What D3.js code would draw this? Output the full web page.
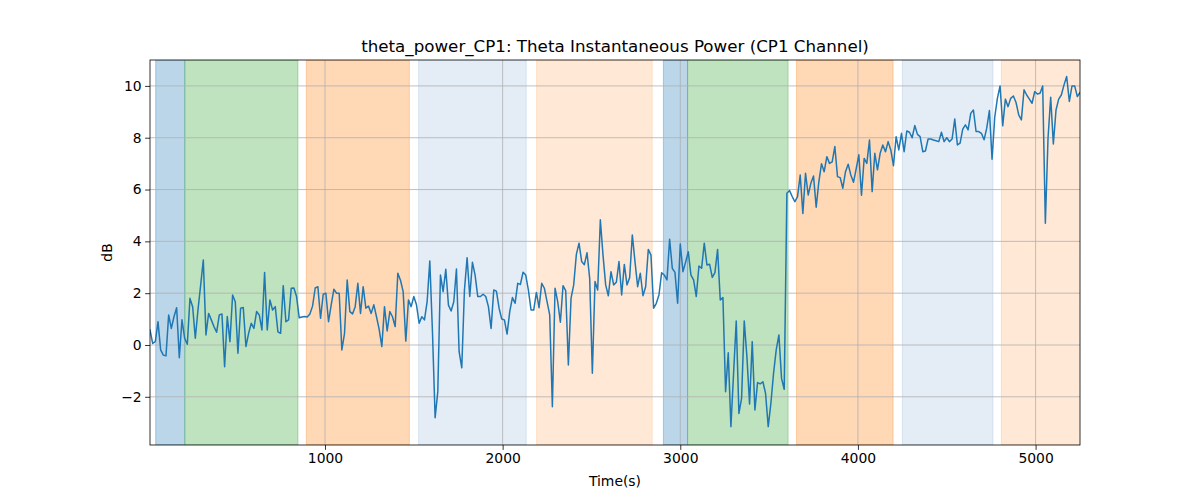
<!DOCTYPE html>
<html>
<head>
<meta charset="utf-8">
<script src="https://cdn.jsdelivr.net/npm/d3@7/dist/d3.min.js"></script>
<style>
  body { margin: 0; background: #fff; }
  svg text { font-family: "DejaVu Sans", sans-serif; fill: #000; }
</style>
</head>
<body>
<svg id="chart" width="1200" height="500"></svg>
<script>
"use strict"

// Samples are on a regular 15 s grid, first one at t = 15 s.
const firstTime = 15
const sampleStep = 15

// Theta power (dB) in blocks of ~50 samples.
const powerBlock1 = [
    0.58, 0.06, 0.13, 0.9, -0.19, -0.39, -0.42, 1.16, 0.64, 1.09,
    1.44, -0.49, 0.97, 0.26, 0.03, 1.8, 1.48, 0.26, 1.35, 2.3,
    3.28, 0.39, 1.22, 0.97, 0.71, 0.49, 1.16, 1.2, -0.84, 1.1,
    0.13, 1.93, 1.67, -0.32, 1.42, 1.45, -0.06, 0.45, 0.84, 0.64,
    1.29, 1.16, 0.58, 2.8, 0.58, 1.74, 1.35, 1.48, 0.51, 0.45,
    2.29, 0.9, 0.97, 2.19, 2.2, 1.87
]
const powerBlock2 = [
    1.05, 1.08, 1.1, 1.08, 1.2, 1.5, 2.2, 2.25, 1.03, 1.96,
    2.0, 0.9, 1.55, 2.15, 2.0, 2.0, -0.19, 0.45, 2.51, 1.29,
    1.2, 1.48, 2.38, 1.22, 2.25, 1.42, 1.5, 1.22, 1.55, 1.09,
    0.6, -0.06, 1.48, 0.54, 1.29, 1.09, 0.71, 2.77, 2.5, 2.06,
    0.15, 1.74, 1.48, 1.87, 1.55
]
const powerBlock3 = [
    0.84, 1.09, 0.97, 1.67, 3.24, 0.51, -2.81, -1.8, 2.7, 2.06,
    2.92, 1.54, 1.31, 1.67, 2.93, -0.26, -0.88, 2.12, 3.37, 1.87,
    3.19, 2.7, 1.87, 1.87, 1.96, 1.87, 1.48, 0.64, 2.12, 2.08,
    1.42, 1.0, 0.97, 0.42, 1.29, 1.83, 1.61, 2.38, 2.34, 2.81,
    2.7, 2.12, 1.35, 1.35, 2.03, 1.44, 2.38, 2.19, 1.67, 1.16,
    -2.38
]
const powerBlock4 = [
    2.19, 1.67, 0.88, 2.29, 2.1, -0.77, 1.8, 2.32, 3.5, 3.93,
    3.22, 3.1, 3.56, 2.57, -1.09, 2.45, 2.12, 4.83, 3.47, 2.32,
    1.9, 2.83, 2.32, 2.42, 3.22, 1.93, 3.11, 2.32, 2.6, 4.25,
    3.22, 2.25, 2.77, 1.9, 2.25, 3.69, 3.47, 1.42, 1.61, 1.93,
    2.79, 2.7, 2.51, 4.08, 2.96, 2.8, 1.61, 3.9, 2.83, 3.2,
    3.6
]
const powerBlock5 = [
    2.7, 2.51, 1.87, 3.05, 2.96, 3.93, 3.09, 3.12, 2.61, 2.79,
    3.69, 1.74, 1.83, -1.8, -0.3, -3.15, -1.09, 0.93, -2.64, -2.06,
    0.93, -0.45, -2.28, 0.13, -2.51, -1.45, -1.5, -1.42, -1.87, -3.15,
    -2.25, -1.09, -0.19, 0.39, -1.29, -1.71, 5.86, 5.96, 5.73, 5.53,
    5.73, 6.56, 5.08, 6.63, 5.79, 6.24, 6.52, 5.32, 6.3, 7.0
]
const powerBlock6 = [
    6.69, 7.27, 7.01, 7.07, 7.66, 6.5, 6.46, 6.05, 6.69, 6.98,
    6.56, 6.28, 6.8, 7.34, 5.78, 7.2, 7.01, 7.91, 5.92, 7.4,
    6.76, 7.4, 7.72, 7.46, 7.85, 7.53, 6.92, 8.04, 7.53, 8.17,
    7.46, 8.26, 8.21, 8.0, 8.47, 8.13, 8.04, 7.46, 7.49, 7.95,
    7.95, 7.91, 7.88, 7.85, 8.21, 7.85, 8.0, 7.85, 7.95
]
const powerBlock7 = [
    8.72, 7.72, 7.79, 8.33, 8.5, 8.3, 8.94, 9.07, 8.24, 8.24,
    8.17, 7.92, 8.37, 9.05, 7.17, 8.79, 9.52, 10.0, 8.46, 9.49,
    9.2, 9.52, 9.61, 9.36, 8.88, 8.69, 9.85, 9.65, 9.49, 9.33,
    9.78, 9.69, 9.72, 10.0, 4.7, 7.98, 9.56, 7.76, 9.07, 9.49,
    9.65, 10.04, 10.36, 9.4, 10.0, 10.0, 9.59, 9.74
]

// Shaded task periods (s)
const spanStarts = [47, 211, 895, 1527, 2191, 2905, 3041, 3654, 4250, 4807]
const spanEnds = [211, 848, 1475, 2133, 2842, 3041, 3607, 4198, 4760, 5300]
const spanKinds = ["blue", "green", "orange", "paleBlue", "paleOrange",
    "blue", "green", "orange", "paleBlue", "paleOrange"]

const xTicks = [1000, 2000, 3000, 4000, 5000]
const yTicks = [-2, 0, 2, 4, 6, 8, 10]

const titleText = "theta_power_CP1: Theta Instantaneous Power (CP1 Channel)"
const xLabel = "Time(s)"
const yLabel = "dB"


const spanStyle = {
    blue: { color: "#1f77b4", alpha: 0.3 },
    green: { color: "#2ca02c", alpha: 0.3 },
    orange: { color: "#ff7f0e", alpha: 0.3 },
    paleBlue: { color: "#1f5fb4", alpha: 0.12 },
    paleOrange: { color: "#ff7f0e", alpha: 0.17 }
}

const power = [].concat(powerBlock1, powerBlock2, powerBlock3, powerBlock4,
    powerBlock5, powerBlock6, powerBlock7)
const series = power.map((v, i) => ({ t: firstTime + i * sampleStep, v: v }))

const margin = { top: 60, right: 120, bottom: 55, left: 150 }
const width = 1200, height = 500
const plotW = width - margin.left - margin.right
const plotH = height - margin.top - margin.bottom

const x = d3.scaleLinear()
    .domain([15, 5250])
    .range([0, plotW])
const y = d3.scaleLinear()
    .domain([-3.86, 11.0])
    .range([plotH, 0])

const svg = d3.select("#chart")
svg.append("rect").attr("width", width).attr("height", height).attr("fill", "#fff")

svg.append("defs").append("clipPath")
    .attr("id", "plot-clip")
    .append("rect")
    .attr("width", plotW)
    .attr("height", plotH)

const g = svg.append("g")
    .attr("transform", `translate(${margin.left}, ${margin.top})`)

// spans
const spans = spanStarts.map((s, i) => ({ start: s, end: spanEnds[i], kind: spanKinds[i] }))
g.append("g")
    .attr("clip-path", "url(#plot-clip)")
    .selectAll("rect")
    .data(spans)
    .enter()
    .append("rect")
    .attr("x", d => x(d.start))
    .attr("width", d => x(d.end) - x(d.start))
    .attr("y", 0)
    .attr("height", plotH)
    .attr("fill", d => spanStyle[d.kind].color)
    .attr("fill-opacity", d => spanStyle[d.kind].alpha)
    .attr("stroke", d => spanStyle[d.kind].color)
    .attr("stroke-opacity", d => spanStyle[d.kind].alpha)
    .attr("stroke-width", 1)

// grid
const grid = g.append("g").attr("stroke", "#b0b0b0").attr("stroke-width", 0.8)
grid.selectAll(".gx")
    .data(xTicks)
    .enter()
    .append("line")
    .attr("x1", d => x(d)).attr("x2", d => x(d))
    .attr("y1", 0).attr("y2", plotH)
grid.selectAll(".gy")
    .data(yTicks)
    .enter()
    .append("line")
    .attr("x1", 0).attr("x2", plotW)
    .attr("y1", d => y(d)).attr("y2", d => y(d))

// power trace
const line = d3.line()
    .x(d => x(d.t))
    .y(d => y(d.v))
g.append("path")
    .datum(series)
    .attr("clip-path", "url(#plot-clip)")
    .attr("fill", "none")
    .attr("stroke", "#1f77b4")
    .attr("stroke-width", 1.5)
    .attr("stroke-linejoin", "round")
    .attr("stroke-linecap", "square")
    .attr("d", line)

// axes
const xAxis = g.append("g")
    .attr("transform", `translate(0, ${plotH})`)
    .call(d3.axisBottom(x).tickValues(xTicks).tickSize(4.9).tickPadding(3.5).tickFormat(d3.format("d")))
const yAxis = g.append("g")
    .call(d3.axisLeft(y).tickValues(yTicks).tickSize(4.9).tickPadding(3.5).tickFormat(d3.format("d")))

for (let ax of [xAxis, yAxis]) {
    ax.select(".domain").remove()
    ax.selectAll(".tick line").attr("stroke", "#000").attr("stroke-width", 0.8)
    ax.selectAll(".tick text")
        .attr("font-size", 13.9)
        .attr("font-family", "DejaVu Sans, sans-serif")
        .attr("fill", "#000")
}

// frame
g.append("rect")
    .attr("width", plotW)
    .attr("height", plotH)
    .attr("fill", "none")
    .attr("stroke", "#000")
    .attr("stroke-width", 0.8)

// labels
svg.append("text")
    .attr("x", margin.left + plotW / 2)
    .attr("y", margin.top - 8.5)
    .attr("text-anchor", "middle")
    .attr("font-size", 16.7)
    .text(titleText)

svg.append("text")
    .attr("x", margin.left + plotW / 2)
    .attr("y", 486)
    .attr("text-anchor", "middle")
    .attr("font-size", 13.9)
    .text(xLabel)

svg.append("text")
    .attr("transform", `translate(112, ${margin.top + plotH / 2}) rotate(-90)`)
    .attr("text-anchor", "middle")
    .attr("font-size", 13.9)
    .text(yLabel)
</script>
</body>
</html>
